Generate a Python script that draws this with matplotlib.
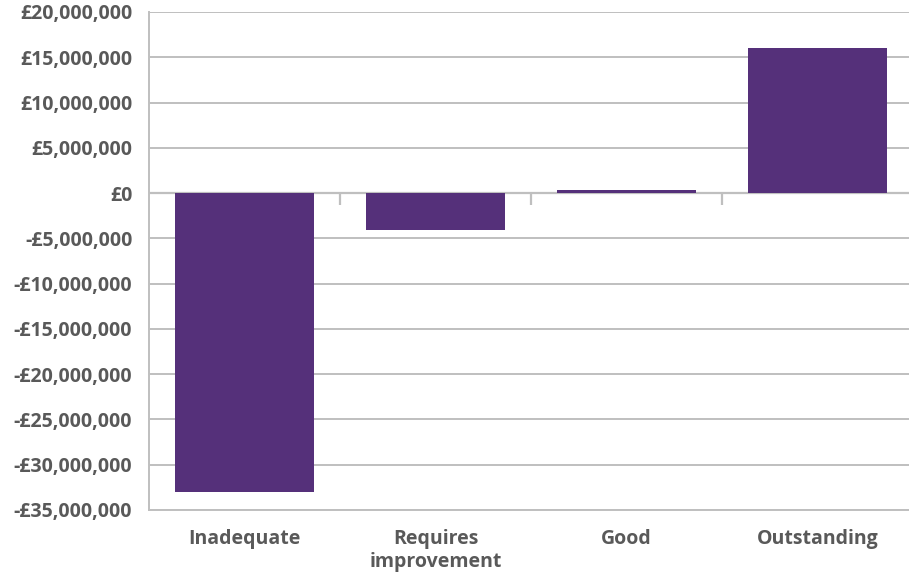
import matplotlib
matplotlib.use("Agg")
import matplotlib.pyplot as plt
from matplotlib.ticker import FuncFormatter

categories = ["Inadequate", "Requires\nimprovement", "Good", "Outstanding"]
values = [-33_000_000, -4_100_000, 330_000, 16_000_000]
y_ticks = list(range(-35_000_000, 20_000_001, 5_000_000))

BAR = "#55307a"
GRID = "#bfbfbf"
TEXT = "#595959"

plt.rcParams["font.family"] = ["Open Sans", "DejaVu Sans"]

fig = plt.figure(figsize=(9.09, 5.73), dpi=100)
ax = fig.add_axes([149 / 909, 1 - 510 / 573, (913 - 149) / 909, (510 - 12) / 573])

x = list(range(len(categories)))
ax.bar(x, values, width=0.725, color=BAR, zorder=3)

ax.set_xlim(-0.5, len(categories) - 0.5)
ax.set_ylim(y_ticks[0], y_ticks[-1])
ax.set_yticks(y_ticks)


def money(v, _pos):
    v = int(round(v))
    if v == 0:
        return "£0"
    sign = "-" if v < 0 else ""
    return f"{sign}£{abs(v):,}"


ax.yaxis.set_major_formatter(FuncFormatter(money))
ax.grid(axis="y", color=GRID, linewidth=1.4, zorder=0)
ax.set_axisbelow(True)

# zero baseline with category separators
ax.axhline(0, color=GRID, linewidth=1.6, zorder=2)
for b in [0.5, 1.5, 2.5]:
    ax.vlines(b, -1_350_000, 0, color=GRID, linewidth=1.6, zorder=2)

ax.set_xticks(x)
ax.set_xticklabels(categories, linespacing=1.2)

for side in ["top", "right"]:
    ax.spines[side].set_visible(False)
for side in ["left", "bottom"]:
    ax.spines[side].set_color(GRID)
    ax.spines[side].set_linewidth(1.4)

ax.tick_params(axis="both", length=0, colors=TEXT, labelsize=14)
ax.tick_params(axis="y", pad=12)
ax.tick_params(axis="x", pad=14)
for lab in ax.get_xticklabels() + ax.get_yticklabels():
    lab.set_fontweight("bold")
    lab.set_color(TEXT)

fig.savefig("out.png", dpi=100, facecolor="white")
